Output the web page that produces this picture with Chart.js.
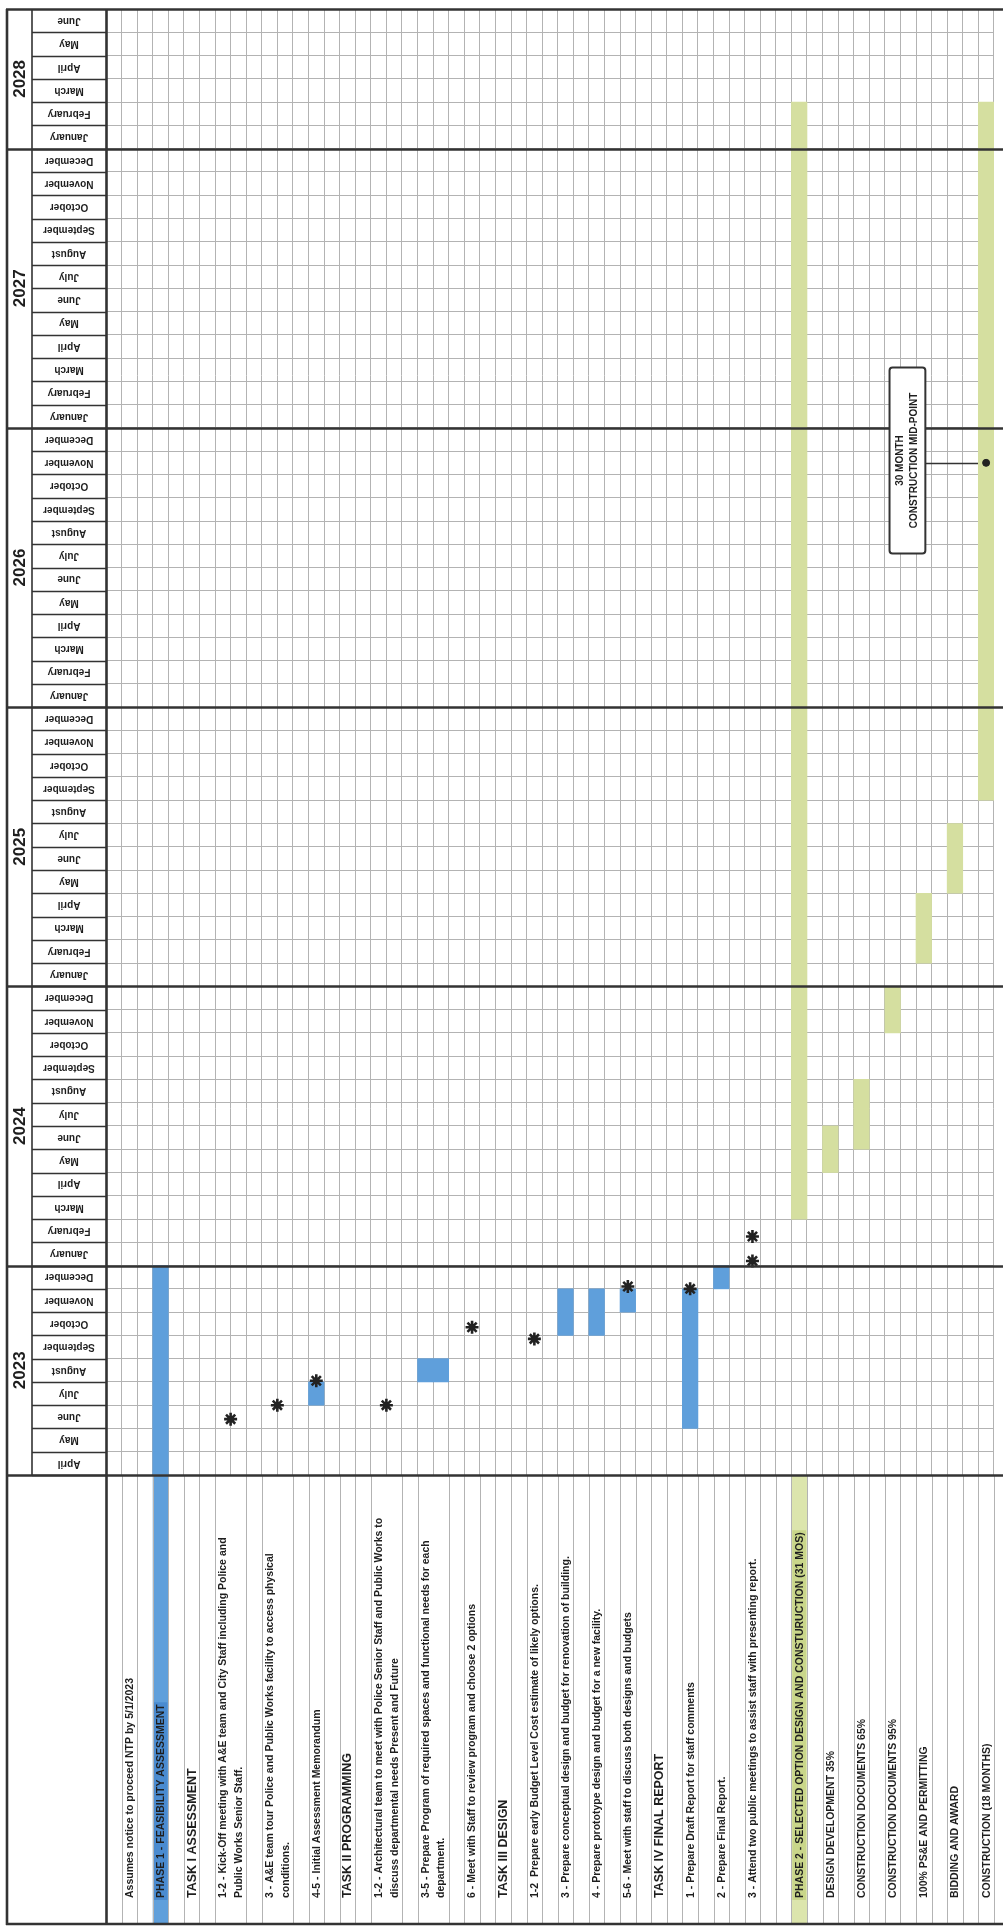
<!DOCTYPE html>
<html>
<head>
<meta charset="utf-8">
<title>Project schedule</title>
<script src="https://cdn.jsdelivr.net/npm/chart.js@4.4.1/dist/chart.umd.min.js"></script>
<style>
  html, body { margin: 0; padding: 0; background: #fff; overflow: hidden; }
  canvas { display: block; }
</style>
</head>
<body>
<canvas id="gantt" width="1003" height="1928"></canvas>
<script>
// timeline: April 2023 .. June 2028
const START_YEAR = 2023;
const START_MONTH = 4;
const MONTH_COUNT = 63;

const monthNames = ['January', 'February', 'March', 'April', 'May', 'June', 'July',
  'August', 'September', 'October', 'November', 'December'];
const years = ['2023', '2024', '2025', '2026', '2027', '2028'];

// one entry per chart row, '' id = blank spacer row, two strings = label on two lines
const rows = [
  ['', ''],
  ['ntp', 'Assumes notice to proceed NTP by 5/1/2023'],
  ['', ''],
  ['p1', 'PHASE 1 - FEASIBILITY ASSESSMENT'],
  ['', ''],
  ['t1', 'TASK I ASSESSMENT'],
  ['', ''],
  ['t1a', ['1-2 - Kick-Off meeting with A&E team and City Staff including Police and', 'Public Works Senior Staff.']],
  ['', ''],
  ['t1b', ['3 - A&E team tour Police and Public Works facility to access physical', 'conditions.']],
  ['', ''],
  ['t1c', '4-5 - Initial Assessment Memorandum'],
  ['', ''],
  ['t2', 'TASK II PROGRAMMING'],
  ['', ''],
  ['t2a', ['1-2 - Architectural team to meet with Police Senior Staff and Public Works to', 'discuss departmental needs Present and Future']],
  ['', ''],
  ['t2b', ['3-5 - Prepare Program of required spaces and functional needs for each', 'department.']],
  ['', ''],
  ['t2c', '6 - Meet with Staff to review program and choose 2 options'],
  ['', ''],
  ['t3', 'TASK III DESIGN'],
  ['', ''],
  ['t3a', '1-2  Prepare early Budget Level Cost estimate of likely options.'],
  ['', ''],
  ['t3b', '3 - Prepare conceptual design and budget for renovation of building.'],
  ['', ''],
  ['t3c', '4 - Prepare prototype design and budget for a new facility.'],
  ['', ''],
  ['t3d', '5-6 - Meet with staff to discuss both designs and budgets'],
  ['', ''],
  ['t4', 'TASK IV FINAL REPORT'],
  ['', ''],
  ['t4a', '1 - Prepare Draft Report for staff comments'],
  ['', ''],
  ['t4b', '2 - Prepare Final Report.'],
  ['', ''],
  ['t4c', '3 - Attend two public meetings to assist staff with presenting report.'],
  ['', ''],
  ['', ''],
  ['p2', 'PHASE 2 - SELECTED OPTION DESIGN AND CONSTURUCTION (31 MOS)'],
  ['', ''],
  ['dd', 'DESIGN DEVELOPMENT 35%'],
  ['', ''],
  ['cd65', 'CONSTRUCTION DOCUMENTS 65%'],
  ['', ''],
  ['cd95', 'CONSTRUCTION DOCUMENTS 95%'],
  ['', ''],
  ['pse', '100% PS&E AND PERMITTING'],
  ['', ''],
  ['bid', 'BIDDING AND AWARD'],
  ['', ''],
  ['con', 'CONSTRUCTION (18 MONTHS)']
];
const headingRows = ['t1', 't2', 't3', 't4'];

// [row, first month, last month]
const phase1Bars = [
  ['p1', '2023-04', '2023-12'],
  ['t1c', '2023-07', '2023-07'],
  ['t2b', '2023-08', '2023-08'],
  ['t3b', '2023-10', '2023-11'],
  ['t3c', '2023-10', '2023-11'],
  ['t3d', '2023-11', '2023-11'],
  ['t4a', '2023-06', '2023-11'],
  ['t4b', '2023-12', '2023-12']
];
const phase2Bars = [
  ['p2', '2024-03', '2028-02'],
  ['dd', '2024-05', '2024-06'],
  ['cd65', '2024-06', '2024-08'],
  ['cd95', '2024-11', '2024-12'],
  ['pse', '2025-02', '2025-04'],
  ['bid', '2025-05', '2025-07'],
  ['con', '2025-09', '2028-02']
];

// asterisk milestones: [row, month, fraction into the month]
const milestones = [
  ['t1a', '2023-06', 0.4],
  ['t1b', '2023-07', 0.0],
  ['t1c', '2023-08', 0.05],
  ['t2a', '2023-07', 0.0],
  ['t2c', '2023-10', 0.35],
  ['t3a', '2023-09', 0.85],
  ['t3d', '2023-12', 0.1],
  ['t4a', '2023-12', 0.0],
  ['t4c', '2024-01', 0.2],
  ['t4c', '2024-02', 0.25]
];
const midPoint = ['con', '2026-11', 0.5];
const midPointText = ['30 MONTH', 'CONSTRUCTION MID-POINT'];

const BLUE = '#5f9fdb';
const GREEN = '#d5dfa0';
const GRID = '#b3b3b3';
const INK = '#1e1e1e';
const DARK = '#333';
const FONT = '"Liberation Sans", Arial, sans-serif';

function monthIndex(ym) {
  const [y, m] = ym.split('-').map(Number);
  return (y - START_YEAR) * 12 + (m - START_MONTH);
}

// one category per grid column
const categories = [];
const rowOf = [];
rows.forEach(([id, label]) => {
  const lines = Array.isArray(label) ? label : [label];
  lines.forEach(t => {
    categories.push(t);
    rowOf.push(id);
  });
});

function colsOf(id) {
  const out = [];
  rowOf.forEach((r, i) => { if (r === id) out.push(i); });
  return out;
}
function rowCenter(id) {
  const c = colsOf(id);
  return (c[0] + c[c.length - 1]) / 2;
}

function barData(list) {
  const d = categories.map(() => null);
  list.forEach(([id, a, b]) => {
    colsOf(id).forEach(c => { d[c] = [monthIndex(a), monthIndex(b) + 1]; });
  });
  return d;
}

const starPoints = milestones.map(([id, ym, f]) => ({ x: rowCenter(id), y: monthIndex(ym) + f }));
const midPointValue = { x: rowCenter(midPoint[0]), y: monthIndex(midPoint[1]) + midPoint[2] };

function hline(ctx, x1, x2, y, w, c) {
  ctx.beginPath();
  ctx.lineWidth = w;
  ctx.strokeStyle = c;
  ctx.moveTo(x1, y);
  ctx.lineTo(x2, y);
  ctx.stroke();
}
function vline(ctx, x, y1, y2, w, c) {
  ctx.beginPath();
  ctx.lineWidth = w;
  ctx.strokeStyle = c;
  ctx.moveTo(x, y1);
  ctx.lineTo(x, y2);
  ctx.stroke();
}

const framePlugin = {
  id: 'frame',
  beforeDatasetsDraw(chart) {
    // connector from the mid-point note to the construction bar
    const ctx = chart.ctx;
    const xl = chart.scales.xl, ys = chart.scales.y;
    const y = ys.getPixelForValue(midPointValue.y);
    const boxRight = xl.getPixelForValue(midPointValue.x - 3.9);
    hline(ctx, boxRight, xl.getPixelForValue(midPointValue.x), Math.round(y) + 0.5, 1.5, DARK);
  },
  afterDatasetsDraw(chart) {
    const ctx = chart.ctx;
    const xl = chart.scales.xl, ys = chart.scales.y;
    const area = chart.chartArea;
    const W = chart.width;
    const labelTop = area.bottom;
    const labelBottom = chart.height - 4;
    const edge = i => xl.getPixelForValue(i - 0.5);
    const center = i => xl.getPixelForValue(i);
    const yearLeft = 6, monthLeft = 32;
    const rowFont = 'bold 10.5px ' + FONT;

    ctx.save();

    // label cells of the two phases
    [['p1', BLUE, '#4a8bd0'], ['p2', '#dce5ad', '#c9d68a']].forEach(([id, fill, hi]) => {
      colsOf(id).forEach(c => {
        ctx.fillStyle = fill;
        ctx.fillRect(edge(c), labelTop, edge(c + 1) - edge(c), labelBottom - labelTop);
        ctx.font = rowFont;
        const w = ctx.measureText(categories[c]).width;
        ctx.fillStyle = hi;
        ctx.fillRect(edge(c) + 1, labelBottom - 28 - w, edge(c + 1) - edge(c) - 2, w + 4);
      });
    });

    // label area column rules
    for (let i = 0; i <= categories.length; i++) {
      if (i > 0 && i < categories.length && rowOf[i] && rowOf[i] === rowOf[i - 1]) continue;
      vline(ctx, Math.round(edge(i)) + 0.5, labelTop, labelBottom, 1, GRID);
    }

    // row labels, reading bottom to top
    ctx.fillStyle = INK;
    ctx.textAlign = 'left';
    ctx.textBaseline = 'middle';
    categories.forEach((t, i) => {
      if (!t) return;
      ctx.font = headingRows.includes(rowOf[i]) ? 'bold 12.5px ' + FONT : rowFont;
      ctx.save();
      ctx.translate(center(i) + 0.5, labelBottom - 26);
      ctx.rotate(-Math.PI / 2);
      ctx.fillText(t, 0, 0);
      ctx.restore();
    });

    // month header cells (text upside down)
    ctx.font = 'bold 10px ' + FONT;
    ctx.textAlign = 'center';
    for (let v = 0; v < MONTH_COUNT; v++) {
      const yTop = ys.getPixelForValue(v + 1), yBot = ys.getPixelForValue(v);
      hline(ctx, monthLeft, area.left, Math.round(yBot) + 0.5, 1.4, DARK);
      const name = monthNames[(START_MONTH - 1 + v) % 12];
      ctx.save();
      ctx.translate((monthLeft + area.left) / 2, (yTop + yBot) / 2);
      ctx.rotate(Math.PI);
      ctx.fillStyle = INK;
      ctx.fillText(name, 0, 0);
      ctx.restore();
    }

    // years
    ctx.font = 'bold 17px ' + FONT;
    years.forEach((yr, k) => {
      const first = Math.max(0, (k * 12) - (START_MONTH - 1));
      const last = Math.min(MONTH_COUNT, (k + 1) * 12 - (START_MONTH - 1));
      const yc = (ys.getPixelForValue(first) + ys.getPixelForValue(last)) / 2;
      ctx.save();
      ctx.translate((yearLeft + monthLeft) / 2 + 1, yc);
      ctx.rotate(-Math.PI / 2);
      ctx.fillStyle = INK;
      ctx.fillText(yr, 0, 0);
      ctx.restore();
      if (first > 0) hline(ctx, yearLeft, W, Math.round(ys.getPixelForValue(first)) + 0.5, 2.6, DARK);
    });

    // outer frame
    hline(ctx, yearLeft, W, Math.round(area.top) + 0.5, 2.6, DARK);
    hline(ctx, yearLeft, W, Math.round(labelTop) + 0.5, 2.6, DARK);
    hline(ctx, yearLeft, W, labelBottom, 2.6, DARK);
    vline(ctx, yearLeft + 1, area.top, labelBottom + 1, 2.6, DARK);
    vline(ctx, monthLeft, area.top, labelTop, 1.6, DARK);
    vline(ctx, Math.round(area.left) + 0.5, area.top, labelBottom, 2.6, DARK);

    // mid-point note
    const bx1 = xl.getPixelForValue(midPointValue.x - 6.2);
    const bx2 = xl.getPixelForValue(midPointValue.x - 3.9);
    const by1 = ys.getPixelForValue(midPointValue.y + 4.1);
    const by2 = ys.getPixelForValue(midPointValue.y - 3.9);
    ctx.fillStyle = '#fff';
    ctx.beginPath();
    ctx.roundRect(bx1, by1, bx2 - bx1, by2 - by1, 3);
    ctx.fill();
    ctx.lineWidth = 2;
    ctx.strokeStyle = DARK;
    ctx.stroke();
    ctx.fillStyle = INK;
    ctx.font = 'bold 10px ' + FONT;
    ctx.textAlign = 'center';
    midPointText.forEach((t, k) => {
      ctx.save();
      ctx.translate((bx1 + bx2) / 2 + (k - 0.5) * 14, (by1 + by2) / 2);
      ctx.rotate(-Math.PI / 2);
      ctx.fillText(t, 0, 0);
      ctx.restore();
    });

    ctx.restore();
  }
};

const monthTicks = [];
for (let v = 0; v <= MONTH_COUNT; v++) monthTicks.push({ value: v });

const gantt = new Chart(document.getElementById('gantt'), {
  type: 'bar',
  data: {
    labels: categories,
    datasets: [
      {
        type: 'bar',
        data: barData(phase1Bars),
        backgroundColor: BLUE,
        borderWidth: 0,
        barPercentage: 1,
        categoryPercentage: 1,
        grouped: false,
        order: 2
      },
      {
        type: 'bar',
        data: barData(phase2Bars),
        backgroundColor: GREEN,
        borderWidth: 0,
        barPercentage: 1,
        categoryPercentage: 1,
        grouped: false,
        order: 2
      },
      {
        type: 'scatter',
        data: starPoints,
        xAxisID: 'xl',
        pointStyle: 'star',
        pointRadius: 6.5,
        borderColor: '#222',
        backgroundColor: '#222',
        borderWidth: 2.6,
        order: 0
      },
      {
        type: 'scatter',
        data: [midPointValue],
        xAxisID: 'xl',
        pointStyle: 'circle',
        pointRadius: 3.5,
        borderColor: '#222',
        backgroundColor: '#222',
        order: 0
      }
    ]
  },
  options: {
    responsive: false,
    animation: false,
    events: [],
    layout: { padding: { left: 106, right: 7.8, top: 3.2, bottom: 453 } },
    plugins: { legend: { display: false }, tooltip: { enabled: false } },
    scales: {
      x: {
        type: 'category',
        offset: true,
        grid: { offset: true, color: GRID, lineWidth: 1, drawTicks: false },
        ticks: { display: false },
        border: { display: false }
      },
      xl: {
        type: 'linear',
        display: false,
        offset: false,
        grid: { offset: false },
        bounds: 'data',
        min: -0.5,
        max: categories.length - 0.5
      },
      y: {
        type: 'linear',
        min: 0,
        max: MONTH_COUNT,
        afterBuildTicks: s => { s.ticks = monthTicks.slice(); },
        grid: { color: GRID, lineWidth: 1, drawTicks: false },
        ticks: { display: false },
        border: { display: false }
      }
    }
  },
  plugins: [framePlugin]
});
</script>
</body>
</html>
